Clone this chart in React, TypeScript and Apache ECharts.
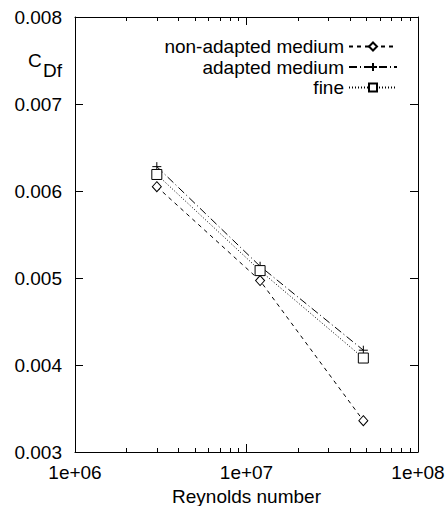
import React, { useEffect, useRef } from "react";
import * as echarts from "echarts";

const reynolds = [3e6, 1.2e7, 4.8e7];
const nonAdaptedMedium = [0.00605, 0.00497, 0.00336];
const adaptedMedium = [0.00628, 0.005135, 0.00417];
const fine = [0.00619, 0.005085, 0.00408];
const seriesNames = ["non-adapted medium", "adapted medium", "fine"];

const FONT = "'Liberation Sans', Arial, Helvetica, sans-serif";

export default function App() {
  const ref = useRef<HTMLDivElement>(null);
  useEffect(() => {
    document.body.style.margin = "0";
    const chart = echarts.init(ref.current!, null, { renderer: "svg" });
    const pairs = (ys: number[]) => reynolds.map((x, i) => [x, ys[i]]);
    const symStyle = { color: "#fff", borderColor: "#000", borderWidth: 1 };
    const xBase: any = {
      type: "log",
      logBase: 10,
      min: 1e6,
      max: 1e8,
      axisLine: { lineStyle: { color: "#000", width: 1 } },
      axisTick: { inside: true, length: 8, lineStyle: { color: "#000" } },
      minorTick: { show: true, splitNumber: 9, length: 4, lineStyle: { color: "#000" } },
      splitLine: { show: false },
    };
    const yBase: any = {
      type: "value",
      min: 0.003,
      max: 0.008,
      interval: 0.001,
      axisLine: { show: true, lineStyle: { color: "#000", width: 1 } },
      axisTick: { show: true, inside: true, length: 8, lineStyle: { color: "#000" } },
      splitLine: { show: false },
    };
    chart.setOption({
      animation: false,
      backgroundColor: "#fff",
      textStyle: { fontFamily: FONT },
      grid: { left: 75, right: 29, top: 17, bottom: 54, containLabel: false, outerBoundsMode: "none" },
      xAxis: [
        {
          ...xBase,
          position: "bottom",
          axisLabel: {
            fontSize: 19,
            color: "#000",
            fontFamily: FONT,
            margin: 11,
            formatter: (v: number) => {
              const e = Math.round(Math.log10(v));
              return "1e+" + String(e).padStart(2, "0");
            },
          },
          name: "Reynolds number",
          nameLocation: "middle",
          nameGap: 23,
          nameTextStyle: { fontSize: 19, color: "#000", fontFamily: FONT },
        },
        { ...xBase, position: "top", axisLabel: { show: false } },
      ],
      yAxis: [
        {
          ...yBase,
          position: "left",
          axisLabel: {
            fontSize: 19,
            color: "#000",
            fontFamily: FONT,
            margin: 13,
            formatter: (v: number) => v.toFixed(3),
          },
        },
        { ...yBase, position: "right", axisLabel: { show: false } },
      ],
      legend: {
        orient: "vertical",
        right: 49,
        top: 37,
        align: "right",
        padding: 0,
        itemWidth: 48,
        itemHeight: 10,
        itemGap: 1.5,
        selectedMode: false,
        textStyle: { fontSize: 19, color: "#000", fontFamily: FONT, lineHeight: 16 },
        data: seriesNames,
      },
      graphic: [
        { type: "text", left: 28, top: 51, style: { text: "C", fontSize: 19, fill: "#000", fontFamily: FONT } },
        { type: "text", left: 43, top: 61, style: { text: "Df", fontSize: 19, fill: "#000", fontFamily: FONT } },
      ],
      series: [
        {
          name: seriesNames[0],
          type: "line",
          data: pairs(nonAdaptedMedium),
          symbol: "diamond",
          symbolSize: [9, 10],
          showSymbol: true,
          itemStyle: symStyle,
          lineStyle: { color: "#000", width: 1, type: [4, 4] },
        },
        {
          name: seriesNames[1],
          type: "line",
          data: pairs(adaptedMedium),
          symbol: "path://M0,5L10,5M5,0L5,10",
          symbolSize: 9,
          showSymbol: true,
          itemStyle: symStyle,
          lineStyle: { color: "#000", width: 1, type: [8, 3, 1, 3] },
        },
        {
          name: seriesNames[2],
          type: "line",
          data: pairs(fine),
          symbol: "rect",
          symbolSize: 10,
          showSymbol: true,
          itemStyle: symStyle,
          lineStyle: { color: "#000", width: 1, type: [1, 2] },
        },
      ],
    });
    return () => chart.dispose();
  }, []);
  return (
    <div
      ref={ref}
      style={{ position: "absolute", left: 0, top: 0, width: 447, height: 506 }}
    />
  );
}
